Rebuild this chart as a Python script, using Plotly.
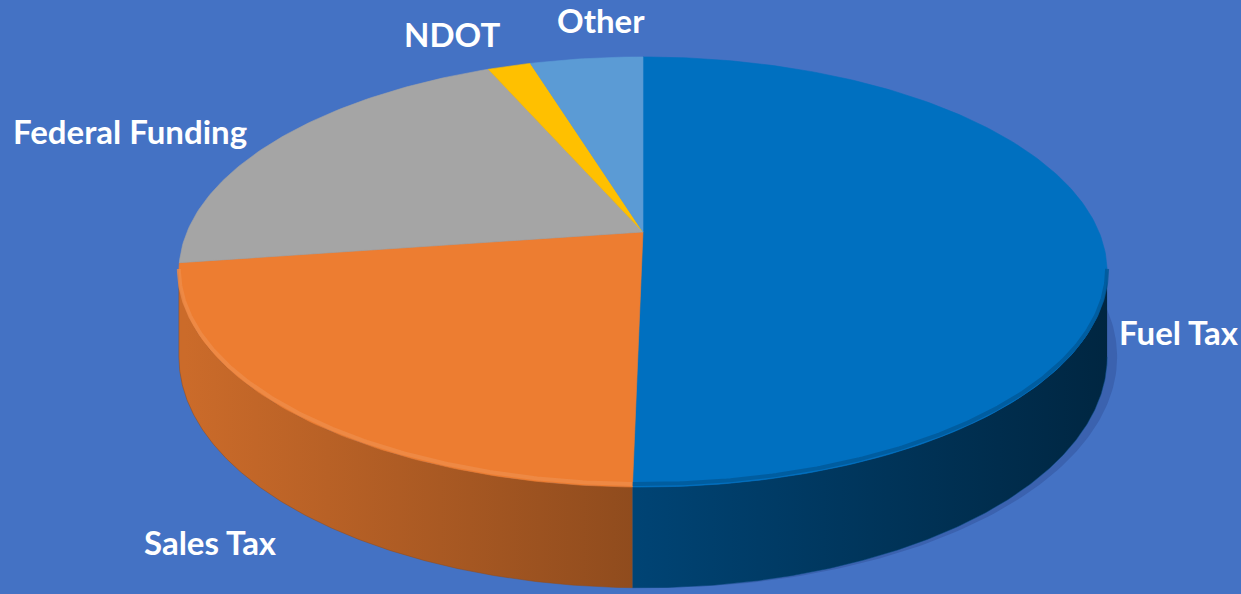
import numpy as np
import plotly.graph_objects as go

# ---- data ----
labels = ["Fuel Tax", "Sales Tax", "Federal Funding", "NDOT", "Other"]
values = [50.3, 22.4, 20.8, 1.8, 4.7]
colors = ["#0070C0", "#ED7D31", "#A5A5A5", "#FFC000", "#5B9BD5"]

# label anchor positions (pixels)
label_x = [1179, 210, 130, 452, 601]
label_y = [332, 542, 131, 34, 20]

# ---- geometry / style ----
W, H = 1241, 594
BG = "#4472C4"
CX, CY = 643, 232          # projected centre of the pie top
A, B, K = 456, 207.6, -0.186  # radii and perspective factor
DEPTH = 82


def proj(theta):
    """theta in radians, clockwise from 12 o'clock."""
    u = np.sin(theta)
    v = -np.cos(theta)
    d = 1 + K * v
    return CX + A * u / d, CY + B * v / d, DEPTH / d


def hex_rgb(h):
    h = h.lstrip("#")
    return tuple(int(h[i:i + 2], 16) for i in (0, 2, 4))


def shade(h, f):
    r, g, b = hex_rgb(h)
    if f <= 1:
        return "rgb(%d,%d,%d)" % (r * f, g * f, b * f)
    t = f - 1
    return "rgb(%d,%d,%d)" % (r + (255 - r) * t, g + (255 - g) * t, b + (255 - b) * t)


# silhouette extremes (front rim lies between them)
ts = np.linspace(0, 2 * np.pi, 7201)
xs_all, _, _ = proj(ts)
th_right = ts[np.argmax(xs_all)]
th_left = ts[np.argmin(xs_all)]

total = float(sum(values))
bounds = [0.0]
for v in values:
    bounds.append(bounds[-1] + 2 * np.pi * v / total)

fig = go.Figure()

# soft shadow to the right of the pie
t = np.linspace(th_right - 0.3, np.pi, 100)
x, y, d = proj(t)
fig.add_trace(go.Scatter(
    x=np.concatenate([x + 10, x[::-1]]), y=np.concatenate([y + d, (y + d)[::-1]]),
    mode="lines", fill="toself", fillcolor="rgba(30,50,110,0.25)",
    line=dict(width=0), hoverinfo="skip", showlegend=False))

GX0, GX1 = 185, 1110
# side faces
for i, (lab, val, col) in enumerate(zip(labels, values, colors)):
    s, e = bounds[i], bounds[i + 1]
    a0, a1 = max(s, th_right), min(e, th_left)
    if a1 <= a0:
        continue
    t = np.linspace(a0, a1, 200)
    x, y, d = proj(t)
    px = np.concatenate([x, x[::-1]])
    py = np.concatenate([y, (y + d)[::-1]])
    fig.add_trace(go.Scatter(
        x=px, y=py, mode="lines", fill="toself",
        line=dict(width=0.5, color=shade(col, 0.6)),
        fillgradient=dict(type="horizontal", start=GX0, stop=GX1,
                          colorscale=[[0, shade(col, 0.86)], [1, shade(col, 0.34)]]),
        hoverinfo="skip", showlegend=False))

# top faces
for i, (lab, val, col) in enumerate(zip(labels, values, colors)):
    s, e = bounds[i], bounds[i + 1]
    t = np.linspace(s, e, max(20, int(400 * (e - s) / (2 * np.pi))))
    x, y, _ = proj(t)
    px = np.concatenate([[CX], x, [CX]])
    py = np.concatenate([[CY], y, [CY]])
    fig.add_trace(go.Scatter(
        x=px, y=py, mode="lines", fill="toself", fillcolor=col,
        line=dict(width=0.6, color=col),
        hoverinfo="skip", showlegend=False, name=lab))

# rim on the front edge of the top
for i, (lab, val, col) in enumerate(zip(labels, values, colors)):
    s, e = bounds[i], bounds[i + 1]
    a0, a1 = max(s, th_right), min(e, th_left)
    if a1 <= a0:
        continue
    t = np.linspace(a0, a1, 200)
    x, y, _ = proj(t)
    rim = shade(col, 1.12) if i != 0 else shade(col, 0.8)
    fig.add_trace(go.Scatter(
        x=x, y=y - 3, mode="lines",
        line=dict(width=4, color=rim),
        opacity=0.8, hoverinfo="skip", showlegend=False))

for lab, lx, ly in zip(labels, label_x, label_y):
    fig.add_annotation(x=lx, y=ly, xref="x", yref="y", text=lab, showarrow=False,
                       font=dict(family="Lato", size=33, color="white", weight="bold"),
                       xanchor="center", yanchor="middle")

fig.update_layout(
    width=W, height=H, margin=dict(l=0, r=0, t=0, b=0),
    paper_bgcolor=BG, plot_bgcolor=BG, showlegend=False, hovermode=False,
    xaxis=dict(range=[0, W], visible=False, fixedrange=True),
    yaxis=dict(range=[H, 0], visible=False, fixedrange=True),
)

fig.write_html("out.html", config={"displayModeBar": False},
               post_script="document.body.style.margin='0';document.body.style.overflow='hidden';")
